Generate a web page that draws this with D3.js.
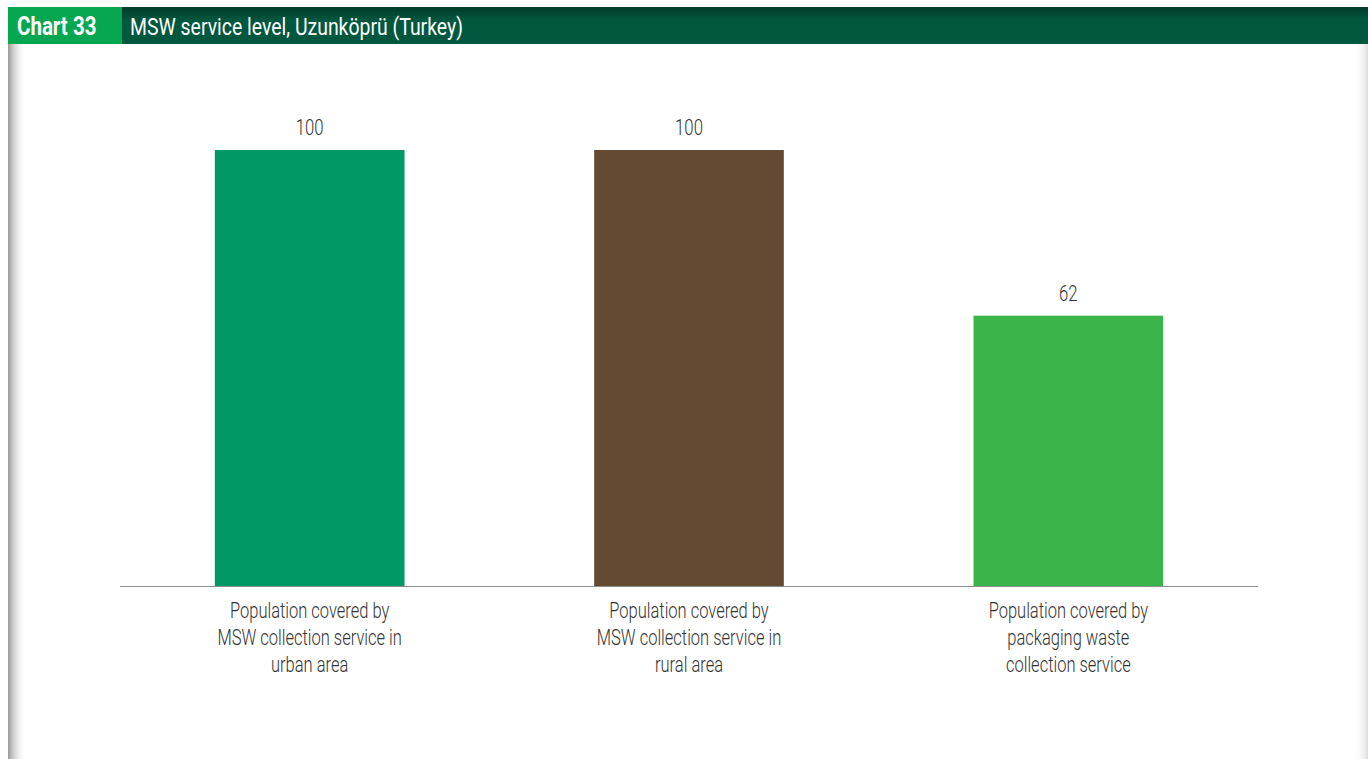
<!DOCTYPE html>
<html lang="en">
<head>
  <meta charset="UTF-8">
  <title>MSW service level, Uzunköprü (Turkey)</title>
  <script src="https://d3js.org/d3.v7.min.js"></script>
  <style>
    body { margin: 0; background: #ffffff; overflow: hidden; }
    svg text { font-family: Roboto, "DejaVu Sans", sans-serif; }
  </style>
</head>
<body>
  <svg id="chart" width="1368" height="759"></svg>
  <script>
    const categories = [
      ["Population covered by", "MSW collection service in", "urban area"],
      ["Population covered by", "MSW collection service in", "rural area"],
      ["Population covered by", "packaging waste", "collection service"]
    ];
    const values = [100, 100, 62];
    const colors = ["#009865", "#654a33", "#3bb54a"];

    const svg = d3.select("#chart");
    const defs = svg.append("defs");

    // squeeze text horizontally to imitate the condensed face of the original
    function condensed(g, cx, k) {
      return g.attr("transform", `translate(${cx},0) scale(${k},1)`);
    }

    // page edge shadows
    const lg = defs.append("linearGradient").attr("id", "leftShade");
    lg.append("stop").attr("offset", "0%").attr("stop-color", "#999");
    lg.append("stop").attr("offset", "100%").attr("stop-color", "#fff").attr("stop-opacity", 0);
    const rg = defs.append("linearGradient").attr("id", "rightShade");
    rg.append("stop").attr("offset", "0%").attr("stop-color", "#fff").attr("stop-opacity", 0);
    rg.append("stop").attr("offset", "100%").attr("stop-color", "#ddd");
    const hg = defs.append("linearGradient").attr("id", "headShade").attr("x2", 0).attr("y2", 1);
    hg.append("stop").attr("offset", "0%").attr("stop-color", "#033a2a");
    hg.append("stop").attr("offset", "35%").attr("stop-color", "#02573f");
    hg.append("stop").attr("offset", "100%").attr("stop-color", "#02573f");

    svg.append("rect").attr("x", 8).attr("y", 44).attr("width", 18).attr("height", 715).attr("fill", "url(#leftShade)");
    svg.append("rect").attr("x", 1354).attr("y", 44).attr("width", 14).attr("height", 715).attr("fill", "url(#rightShade)");

    // header
    svg.append("rect").attr("x", 8).attr("y", 7).attr("width", 1360).attr("height", 37).attr("fill", "url(#headShade)");
    svg.append("rect").attr("x", 8).attr("y", 7).attr("width", 114).attr("height", 37).attr("fill", "#07a650");
    condensed(svg.append("g"), 17, 0.82).append("text").attr("y", 35).attr("fill", "#fff")
      .attr("font-size", 25).attr("font-weight", "bold").text("Chart 33");
    condensed(svg.append("g"), 130, 0.81).append("text").attr("y", 35).attr("fill", "#fff")
      .attr("font-size", 24).text("MSW service level, Uzunköprü (Turkey)");

    const x = d3.scaleBand().domain(d3.range(values.length)).range([120, 1258])
      .paddingInner(0.5).paddingOuter(0.25);
    const y = d3.scaleLinear().domain([0, 100]).range([586, 150]);

    svg.selectAll("rect.bar").data(values).enter().append("rect")
      .attr("class", "bar")
      .attr("x", (d, i) => x(i))
      .attr("y", d => y(d))
      .attr("width", x.bandwidth())
      .attr("height", d => y(0) - y(d))
      .attr("fill", (d, i) => colors[i]);

    svg.selectAll("g.val").data(values).enter().append("g")
      .attr("class", "val")
      .each(function (d, i) { condensed(d3.select(this), x(i) + x.bandwidth() / 2, 0.76); })
      .append("text")
      .attr("y", d => y(d) - 15)
      .attr("text-anchor", "middle").attr("font-size", 22).attr("font-weight", 300).attr("fill", "#333")
      .text(d => d);

    svg.append("line").attr("x1", 120).attr("x2", 1258)
      .attr("y1", y(0) + 0.5).attr("y2", y(0) + 0.5)
      .attr("stroke", "#8c8c8c").attr("stroke-width", 1.2);

    svg.selectAll("g.cat").data(categories).enter().append("g")
      .attr("class", "cat")
      .each(function (lines, i) {
        const t = condensed(d3.select(this), x(i) + x.bandwidth() / 2, 0.75).append("text")
          .attr("text-anchor", "middle").attr("font-size", 22).attr("font-weight", 300).attr("fill", "#333");
        t.selectAll("tspan").data(lines).enter().append("tspan")
          .attr("x", 0)
          .attr("y", (l, j) => 618 + j * 27)
          .text(l => l);
      });
  </script>
</body>
</html>
